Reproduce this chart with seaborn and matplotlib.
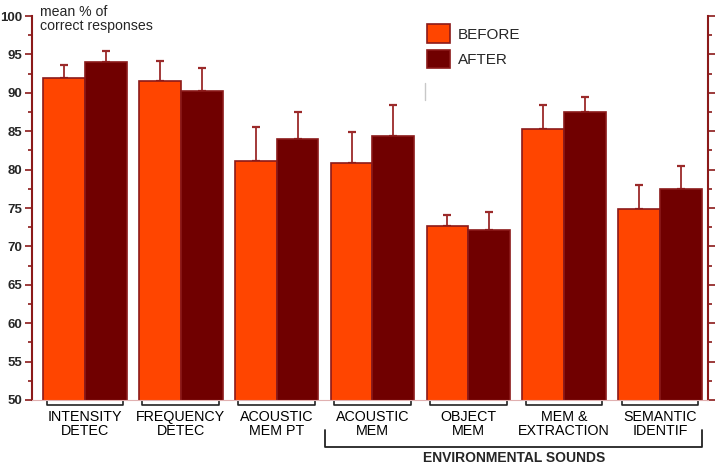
import pandas as pd
import matplotlib
matplotlib.use('Agg')
import matplotlib.pyplot as plt
from matplotlib.ticker import MultipleLocator
import seaborn as sns

tasks = ['INTENSITY\nDETEC', 'FREQUENCY\nDETEC', 'ACOUSTIC\nMEM PT', 'ACOUSTIC\nMEM',
         'OBJECT\nMEM', 'MEM &\nEXTRACTION', 'SEMANTIC\nIDENTIF']
before = [91.9, 91.6, 81.1, 80.9, 72.7, 85.3, 74.9]
before_err = [1.7, 2.5, 4.4, 4.0, 1.4, 3.15, 3.1]
after = [94.0, 90.3, 84.0, 84.35, 72.1, 87.5, 77.5]
after_err = [1.5, 3.0, 3.5, 4.1, 2.4, 2.0, 3.0]
conds = ['BEFORE', 'AFTER']
group_label = 'ENVIRONMENTAL SOUNDS'

df = pd.DataFrame({
    'task': tasks * 2,
    'score': before + after,
    'err': before_err + after_err,
    'cond': [conds[0]] * len(tasks) + [conds[1]] * len(tasks),
})

sns.set_style('white')
plt.rcParams['font.family'] = ['Liberation Sans', 'DejaVu Sans']

dark = '#8b1a1a'
fig = plt.figure(figsize=(7.16, 4.67), dpi=100)
ax = fig.add_axes([0.0447, 0.1435, 0.944, 0.822])

sns.barplot(data=df, x='task', y='score', hue='cond',
            palette={'BEFORE': '#ff4500', 'AFTER': '#700000'}, saturation=1,
            width=0.87, errorbar=None, edgecolor=dark, linewidth=1.2,
            ax=ax, zorder=2)

# upper error bars only
bars = [p for p in ax.patches if p.get_height() > 0][:len(df)]
for p, e in zip(bars, df['err']):
    xc = p.get_x() + p.get_width() / 2
    ax.errorbar(xc, p.get_height(), yerr=[[0], [e]], fmt='none',
                ecolor='#9b2a2a', elinewidth=1.3, capsize=3, capthick=1.6, zorder=1)

ax.set_ylim(50, 100)
ax.set_xlim(-0.553, len(tasks) - 0.5)
ax.yaxis.set_major_locator(MultipleLocator(5))
ax.yaxis.set_minor_locator(MultipleLocator(2.5))
ax.tick_params(axis='y', which='both', left=True, right=True, direction='out',
               color=dark, width=1.2, labelsize=9.5, pad=2.2)
ax.tick_params(axis='y', which='major', length=5)
ax.tick_params(axis='y', which='minor', length=3)
ax.set_xticks([])
ax.set_xlabel('')
ax.set_ylabel('')
for lab in ax.get_yticklabels():
    lab.set_fontweight('bold')

for s in ['left', 'right']:
    ax.spines[s].set_color(dark)
    ax.spines[s].set_linewidth(1.5)
ax.spines['top'].set_visible(False)
ax.spines['bottom'].set_color('#e0b0b0')
ax.spines['bottom'].set_linewidth(0.8)

# category brackets and labels
tr = ax.get_xaxis_transform()
for i, t in enumerate(tasks):
    ax.plot([i - 0.4, i - 0.4, i + 0.4, i + 0.4], [-0.003, -0.013, -0.013, -0.003],
            color='#222222', lw=1.2, transform=tr, clip_on=False)
    ax.text(i, -0.025, t, transform=tr, ha='center', va='top', fontsize=10.3,
            linespacing=1.05, color='black')

# environmental sounds bracket
ax.plot([2.505, 2.505, 6.435, 6.435], [-0.078, -0.1215, -0.1215, -0.078],
        color='#222222', lw=1.3, transform=tr, clip_on=False)
ax.text(4.48, -0.151, group_label, transform=tr, ha='center', va='center',
        fontsize=10, fontweight='bold')

ax.text(0.012, 1.03, 'mean % of\ncorrect responses', transform=ax.transAxes,
        ha='left', va='top', fontsize=10.2, linespacing=1.0)

sns.move_legend(ax, 'upper left', bbox_to_anchor=(0.576, 0.995), frameon=False,
                title=None, fontsize=11, handlelength=1.5, handleheight=1.5,
                handletextpad=0.5, labelspacing=0.45, borderaxespad=0)

ax.plot([0.582, 0.582], [0.8255, 0.781], color='#c8c8c8', lw=1,
        transform=ax.transAxes, clip_on=False)

fig.savefig('out.png', dpi=100)
